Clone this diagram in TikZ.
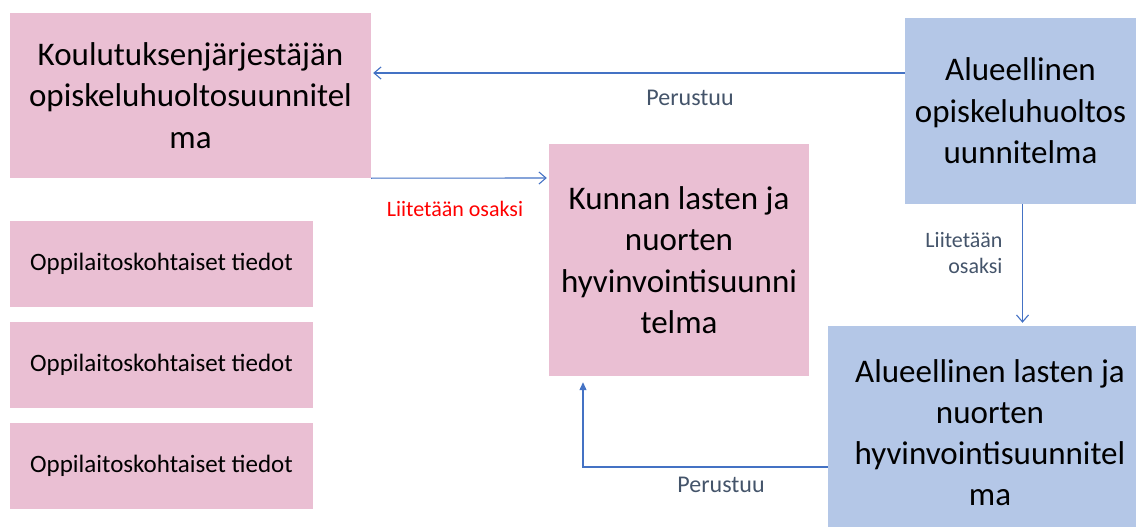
\documentclass[tikz,border=0pt]{standalone}
\usepackage{fontspec}
\setmainfont{Carlito}
\usetikzlibrary{arrows.meta,calc}
\definecolor{pinkbox}{RGB}{234,191,211}
\definecolor{bluebox}{RGB}{180,199,231}
\definecolor{arrblue}{RGB}{68,114,196}
\definecolor{lblgray}{RGB}{68,84,106}
\tikzset{
  box/.style={inner sep=0pt, align=center, text=black, font=\fontsize{33}{41.5}\selectfont},
  pinkb/.style={box, fill=pinkbox},
  blueb/.style={box, fill=bluebox},
  smallb/.style={fill=pinkbox, inner sep=0pt, minimum width=303pt, minimum height=86pt, font=\fontsize{25}{30}\selectfont},
  arr/.style={draw=arrblue, line width=1.1pt, -{Straight Barb[length=7pt,width=12pt]}},
  arrf/.style={draw=arrblue, line width=1.1pt, -{Triangle[length=8pt,width=7pt]}},
  lbl/.style={text=lblgray, inner sep=0pt, font=\fontsize{24}{28}\selectfont},
}
\begin{document}
\begin{tikzpicture}[x=1pt,y=-1pt]
\useasboundingbox (0,0) rectangle (1136,527);
\node[pinkb, minimum width=361pt, minimum height=165pt] (A) at (190.5,95.5)
  {Koulutuksenjärjestäjän\\opiskeluhuoltosuunnitel\\ma};
\node[blueb, minimum width=231pt, minimum height=186pt] (B) at (1020.5,111)
  {Alueellinen\\opiskeluhuoltos\\uunnitelma};
\node[pinkb, minimum width=260pt, minimum height=232pt] (C) at (679,260)
  {Kunnan lasten ja\\nuorten\\hyvinvointisuunni\\telma};
\node[blueb, minimum width=308pt, minimum height=201pt] (D) at (982,426.5) {};
\node[box, font=\fontsize{33}{41}\selectfont] (Dt) at (990,433)
  {Alueellinen lasten ja\\nuorten\\hyvinvointisuunnitel\\ma};
\node[smallb] (S1) at (161.5,264) {Oppilaitoskohtaiset tiedot};
\node[smallb] (S2) at (161.5,365) {Oppilaitoskohtaiset tiedot};
\node[smallb] (S3) at (161.5,466) {Oppilaitoskohtaiset tiedot};

\draw[arr, shorten >=2pt] ([yshift=38pt]B.west) -- ([yshift=22.5pt]A.east);
\draw[arr, shorten >=2pt] (A.south east) -- ([yshift=82pt]C.west);
\draw[arr, shorten >=3pt] ([xshift=2pt]B.south) -- ([xshift=2pt]B.south |- D.north);
\draw[arrf, shorten >=6pt] ([yshift=-40.5pt]D.west) -| ([xshift=-96pt]C.south);

\node[lbl] (L1) at (690,98) {Perustuu};
\node[lbl, text=red, font=\fontsize{22}{26}\selectfont] (L2) at (455,209) {Liitetään osaksi};
\node[lbl, align=right, font=\fontsize{22}{26}\selectfont] (L3) at (964,253) {Liitetään\\osaksi};
\node[lbl] (L4) at (721,485) {Perustuu};
\end{tikzpicture}
\end{document}
